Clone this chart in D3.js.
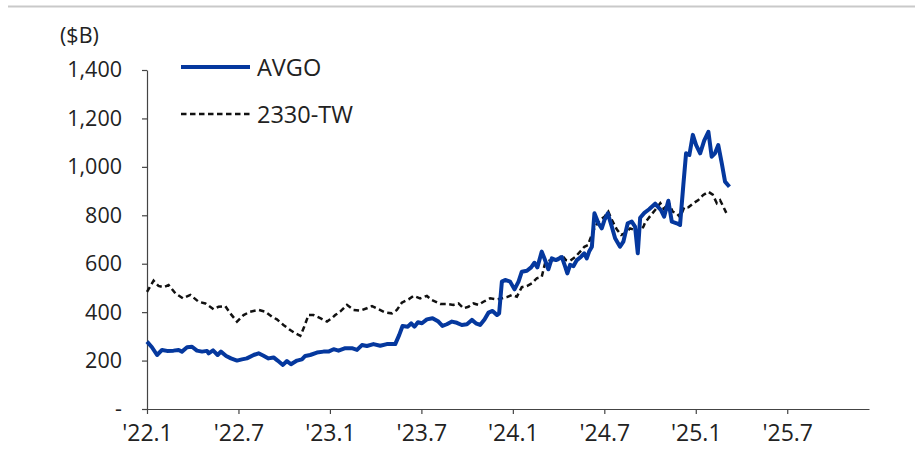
<!DOCTYPE html>
<html>
<head>
<meta charset="utf-8">
<script src="https://cdn.jsdelivr.net/npm/d3@7"></script>
<style>
  body { margin: 0; background: #fff; }
  svg text { font-family: "Open Sans", "Noto Sans", sans-serif; fill: #222; }
</style>
</head>
<body>
<svg id="chart" width="915" height="450"></svg>
<script>
// market cap, $B - AVGO vs 2330-TW (TSMC), weekly-ish readings
// dates are decimal years (2022.5 = start of Jul '22)

var avgoDates = [
  2022.000, 2022.027, 2022.055, 2022.082, 2022.109, 2022.145, 2022.173, 2022.191, 2022.219, 2022.246,
  2022.273, 2022.301, 2022.328, 2022.337, 2022.361, 2022.386, 2022.404, 2022.433, 2022.459, 2022.492,
  2022.519, 2022.546, 2022.583, 2022.610, 2022.637, 2022.664, 2022.692, 2022.714, 2022.743, 2022.765,
  2022.787, 2022.820, 2022.847, 2022.865, 2022.892, 2022.929, 2022.965, 2022.992, 2023.020, 2023.047,
  2023.084, 2023.120, 2023.148, 2023.175, 2023.202, 2023.238, 2023.275, 2023.311, 2023.357, 2023.379,
  2023.397, 2023.426, 2023.444, 2023.462, 2023.481, 2023.503, 2023.530, 2023.561, 2023.593, 2023.615,
  2023.639, 2023.667, 2023.694, 2023.721, 2023.749, 2023.776, 2023.798, 2023.821, 2023.845, 2023.867,
  2023.889, 2023.913, 2023.925, 2023.940, 2023.958, 2023.985, 2024.009, 2024.031, 2024.049, 2024.077,
  2024.100, 2024.118, 2024.134, 2024.158, 2024.176, 2024.194, 2024.213, 2024.235, 2024.268, 2024.286,
  2024.298, 2024.313, 2024.331, 2024.350, 2024.373, 2024.390, 2024.404, 2024.417, 2024.432, 2024.446,
  2024.468, 2024.486, 2024.501, 2024.519, 2024.541, 2024.559, 2024.586, 2024.604, 2024.628, 2024.650,
  2024.668, 2024.683, 2024.696, 2024.719, 2024.745, 2024.778, 2024.796, 2024.809, 2024.827, 2024.850,
  2024.869, 2024.896, 2024.914, 2024.932, 2024.947, 2024.965, 2024.984, 2025.002, 2025.024, 2025.046,
  2025.069, 2025.087, 2025.105, 2025.123, 2025.142, 2025.160, 2025.184
];
var avgoValues = [
  278, 255, 223, 244, 240, 241, 244, 237, 255, 257,
  241, 237, 240, 230, 242, 223, 237, 219, 209, 200,
  205, 209, 223, 230, 220, 209, 213, 200, 182, 198,
  185, 200, 205, 219, 223, 233, 237, 237, 247, 241,
  251, 251, 244, 264, 260, 268, 261, 268, 268, 306,
  343, 340, 354, 340, 358, 354, 370, 375, 361, 343,
  350, 361, 356, 347, 350, 368, 354, 347, 370, 398,
  405, 388, 395, 526, 533, 526, 494, 526, 567, 571,
  585, 604, 585, 650, 615, 577, 622, 615, 627, 588,
  560, 595, 590, 615, 629, 643, 622, 650, 670, 808,
  767, 746, 781, 808, 753, 705, 670, 691, 767, 774,
  753, 643, 790, 810, 825, 848, 833, 822, 794, 860,
  774, 767, 760, 925, 1056, 1049, 1132, 1090, 1056, 1108,
  1145, 1042, 1056, 1090, 1015, 939, 918
];

var tsmcDates = [
  2022.000, 2022.036, 2022.063, 2022.091, 2022.118, 2022.155, 2022.197, 2022.237, 2022.282, 2022.319,
  2022.364, 2022.391, 2022.428, 2022.455, 2022.492, 2022.528, 2022.564, 2022.610, 2022.646, 2022.683,
  2022.710, 2022.746, 2022.783, 2022.810, 2022.838, 2022.856, 2022.883, 2022.910, 2022.947, 2022.984,
  2023.011, 2023.029, 2023.056, 2023.093, 2023.129, 2023.166, 2023.202, 2023.230, 2023.266, 2023.302,
  2023.339, 2023.366, 2023.393, 2023.430, 2023.457, 2023.493, 2023.530, 2023.557, 2023.603, 2023.639,
  2023.675, 2023.703, 2023.730, 2023.757, 2023.785, 2023.812, 2023.839, 2023.876, 2023.913, 2023.940,
  2023.967, 2023.995, 2024.022, 2024.049, 2024.077, 2024.104, 2024.131, 2024.158, 2024.176, 2024.198,
  2024.222, 2024.246, 2024.268, 2024.290, 2024.313, 2024.340, 2024.368, 2024.391, 2024.410, 2024.428,
  2024.450, 2024.477, 2024.501, 2024.522, 2024.541, 2024.568, 2024.592, 2024.614, 2024.641, 2024.668,
  2024.686, 2024.714, 2024.723, 2024.751, 2024.778, 2024.806, 2024.827, 2024.850, 2024.874, 2024.896,
  2024.914, 2024.937, 2024.960, 2024.987, 2025.014, 2025.041, 2025.069, 2025.093, 2025.115, 2025.133,
  2025.151, 2025.173
];
var tsmcValues = [
  484, 530, 508, 503, 512, 478, 457, 471, 443, 436,
  412, 422, 425, 395, 361, 388, 402, 409, 402, 381,
  370, 347, 326, 313, 302, 333, 388, 388, 375, 361,
  375, 388, 402, 430, 409, 406, 416, 425, 412, 399,
  395, 409, 439, 453, 467, 457, 467, 450, 434, 434,
  430, 436, 416, 422, 436, 430, 443, 457, 453, 457,
  462, 471, 464, 503, 508, 519, 540, 546, 602, 612,
  615, 615, 636, 615, 612, 627, 650, 670, 677, 712,
  753, 781, 794, 815, 781, 742, 719, 726, 746, 739,
  728, 753, 770, 797, 822, 850, 825, 856, 815, 808,
  792, 833, 833, 850, 863, 884, 897, 885, 850, 862,
  835, 800
];

var yTicks = [0, 200, 400, 600, 800, 1000, 1200, 1400];
var xTicks = [2022, 2022.5, 2023, 2023.5, 2024, 2024.5, 2025, 2025.5];
var xTickLabels = ["'22.1", "'22.7", "'23.1", "'23.7", "'24.1", "'24.7", "'25.1", "'25.7"];

var svg = d3.select('#chart');

var x = d3.scaleLinear().domain([2022, 2025.947]).range([147, 869]);
var y = d3.scaleLinear().domain([0, 1400]).range([409, 70]);

// thin gray rule across the top
svg.append('line')
  .attr('x1', 8).attr('x2', 915)
  .attr('y1', 6.5).attr('y2', 6.5)
  .attr('stroke', '#c9c9c9')
  .attr('stroke-width', 2);

// y axis
var yAxis = svg.append('g')
  .attr('transform', 'translate(147,0)')
  .call(d3.axisLeft(y)
    .tickValues(yTicks)
    .tickSize(5)
    .tickSizeOuter(0)
    .tickPadding(20)
    .tickFormat(function(d) { return d === 0 ? '-' : d3.format(',')(d); }));

// x axis
var xAxis = svg.append('g')
  .attr('transform', 'translate(0,409)')
  .call(d3.axisBottom(x)
    .tickValues(xTicks)
    .tickSize(5)
    .tickSizeOuter(0)
    .tickPadding(11)
    .tickFormat(function(d, i) { return xTickLabels[i]; }));

svg.selectAll('.domain, .tick line').attr('stroke', '#444').attr('stroke-width', 1.2);
yAxis.selectAll('text').style('font-size', '21.5px').attr('fill', '#222');
xAxis.selectAll('text').style('font-size', '23px').attr('fill', '#222');

// unit label
svg.append('text')
  .attr('x', 60).attr('y', 43)
  .style('font-size', '21.5px')
  .text('($B)');

// lines
var tsmcPts = tsmcDates.map(function(d, i) { return [d, tsmcValues[i]]; });
var avgoPts = avgoDates.map(function(d, i) { return [d, avgoValues[i]]; });

var line = d3.line()
  .x(function(d) { return x(d[0]); })
  .y(function(d) { return y(d[1]); });

svg.append('path')
  .datum(tsmcPts)
  .attr('d', line)
  .attr('fill', 'none')
  .attr('stroke', '#111')
  .attr('stroke-width', 2.5)
  .attr('stroke-dasharray', '5.5,3.5');

svg.append('path')
  .datum(avgoPts)
  .attr('d', line)
  .attr('fill', 'none')
  .attr('stroke', '#05389e')
  .attr('stroke-width', 4)
  .attr('stroke-linejoin', 'round');

// legend
var legend = [
  { name: 'AVGO', color: '#05389e', width: 4, dash: null, y: 67 },
  { name: '2330-TW', color: '#111', width: 2.5, dash: '5.5,3.5', y: 114 }
];

legend.forEach(function(l) {
  svg.append('line')
    .attr('x1', 181).attr('x2', 250)
    .attr('y1', l.y).attr('y2', l.y)
    .attr('stroke', l.color)
    .attr('stroke-width', l.width)
    .attr('stroke-dasharray', l.dash);
  svg.append('text')
    .attr('x', 257).attr('y', l.y + 8.5)
    .style('font-size', '23.5px')
    .text(l.name);
});
</script>
</body>
</html>
